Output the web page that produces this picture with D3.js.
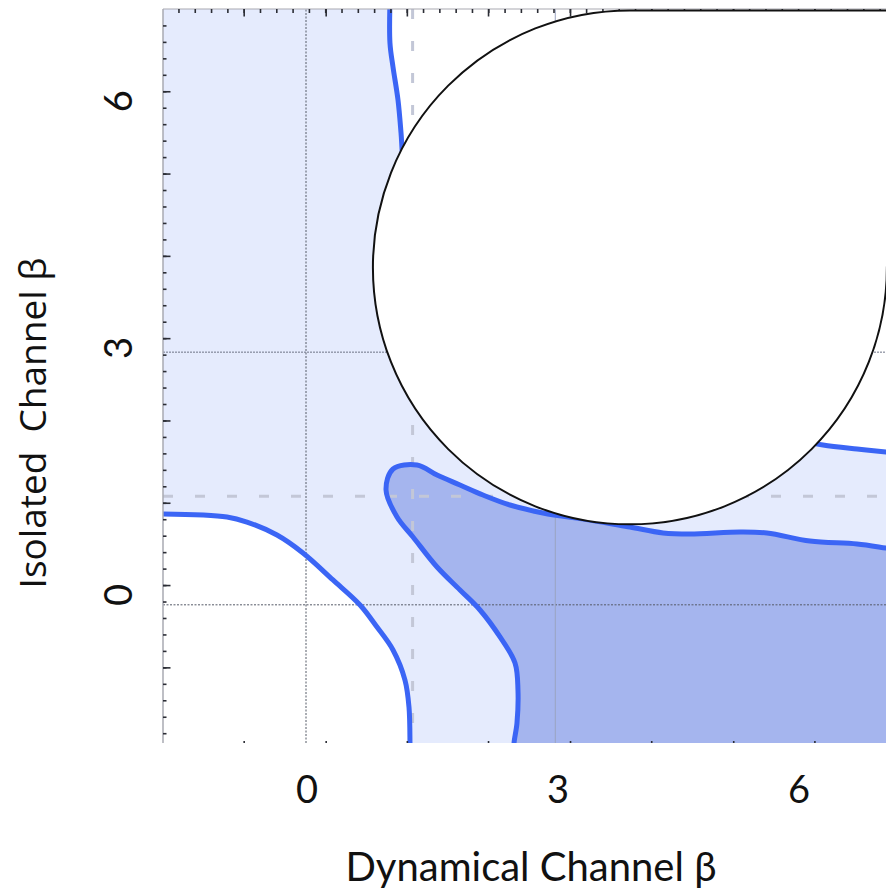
<!DOCTYPE html>
<html>
<head>
<meta charset="utf-8">
<script src="https://cdn.jsdelivr.net/npm/d3@7"></script>
<style>
  html, body { margin: 0; padding: 0; background: #ffffff; }
  svg { display: block; }
</style>
</head>
<body>
<svg id="chart" width="886" height="893"></svg>
<script>
// ---------- data (data units: x = Dynamical Channel β, y = Isolated Channel β) ----------
const xTickLabels = [0, 3, 6];
const yTickLabels = [0, 3, 6];
const xMajorTicks = [-0.76, 0.24, 1.23, 2.22, 3.22, 4.21, 5.21, 6.20];
const yMajorTicks = [-0.94, 0.06, 1.06, 2.06, 3.06, 4.06, 5.06, 6.06];

// outer (light) contour, lower-left branch
const outerLowerX = [-1.76, -0.963, -0.720, -0.354, -0.037, 0.329, 0.659, 0.866, 1.061, 1.207, 1.256, 1.268, 1.268];
const outerLowerY = [0.923, 0.887, 0.826, 0.668, 0.450, 0.122, -0.182, -0.450, -0.729, -1.094, -1.422, -1.859, -1.95];

// outer (light) contour, upper-right branch (middle part lies under the overlay)
const outerUpperX = [1.024, 1.024, 1.061, 1.122, 1.159, 1.183, 1.268, 3.60, 6.00, 6.305, 6.720, 7.073, 7.15];
const outerUpperY = [7.15, 6.646, 6.355, 5.954, 5.553, 5.225, 4.739, 2.30, 1.820, 1.762, 1.713, 1.677, 1.670];

// inner (dark) contour
const innerX = [2.537, 2.537, 2.573, 2.585, 2.549, 2.366, 2.122, 1.878, 1.598, 1.305, 1.110, 0.976, 1.061, 1.354, 1.598, 1.878, 2.159, 2.488, 2.890, 3.463, 3.951, 4.354, 4.683, 5.293, 5.622, 6.146, 6.720, 7.073, 7.15];
const innerY = [-1.95, -1.859, -1.616, -1.215, -0.887, -0.571, -0.243, 0.000, 0.279, 0.644, 0.887, 1.215, 1.470, 1.519, 1.397, 1.276, 1.154, 1.033, 0.936, 0.851, 0.765, 0.693, 0.680, 0.705, 0.693, 0.595, 0.559, 0.510, 0.500];

// reference lines
const zeroLinesX = [0];
const zeroLinesY = [-0.18];
const refLinesX = [3.04];
const refLinesY = [2.89];
const dashedLinesX = [1.30];
const dashedLinesY = [1.14];

// overlay disc (data units: centre and radius in x-units)
const overlayCentre = [3.95, 3.92];
const overlayRadius = 3.134;

// ---------- scales ----------
const svg = d3.select("#chart");
const plotLeft = 163, plotRight = 886, plotTop = 9, plotBottom = 743;
const x = d3.scaleLinear().domain([(plotLeft - 306) / 82, (plotRight - 306) / 82]).range([plotLeft, plotRight]);
const y = d3.scaleLinear().domain([(590 - plotBottom) / 82.3, (590 - plotTop) / 82.3]).range([plotBottom, plotTop]);
const [x0, x1] = x.domain();
const [y0, y1] = y.domain();

const colLight = "#e5ebfd";
const colDark = "#a5b5ee";
const colLine = "#3b65f5";

svg.append("defs").append("clipPath").attr("id", "plotClip")
  .append("rect").attr("x", plotLeft).attr("y", plotTop)
  .attr("width", plotRight - plotLeft).attr("height", plotBottom - plotTop);

const plot = svg.append("g").attr("clip-path", "url(#plotClip)");

const pts = (xs, ys) => xs.map((v, i) => [v, ys[i]]);
const line = d3.line().x(d => x(d[0])).y(d => y(d[1])).curve(d3.curveCatmullRom.alpha(0.5));

const lower = pts(outerLowerX, outerLowerY);
const upper = pts(outerUpperX, outerUpperY);
const inner = pts(innerX, innerY);

// light background
plot.append("rect").attr("x", x(x0)).attr("y", y(y1))
  .attr("width", x(x1) - x(x0)).attr("height", y(y0) - y(y1)).attr("fill", colLight);

// white region lower-left
plot.append("path")
  .attr("d", line(lower) + `L${x(x0 - 0.1)},${y(y0 - 0.1)}Z`)
  .attr("fill", "#ffffff");

// white region upper-right
plot.append("path")
  .attr("d", line(upper) + `L${x(x1 + 0.1)},${y(y1 + 0.1)}Z`)
  .attr("fill", "#ffffff");

// dark region
plot.append("path")
  .attr("d", line(inner) + `L${x(x1 + 0.1)},${y(y0 - 0.1)}Z`)
  .attr("fill", colDark);

// reference lines
const gl = plot.append("g");
zeroLinesX.forEach(v => gl.append("line").attr("x1", x(v)).attr("x2", x(v)).attr("y1", y(y0)).attr("y2", y(y1))
  .attr("stroke", "#555a66").attr("stroke-width", 1).attr("stroke-dasharray", "2,1.5"));
zeroLinesY.forEach(v => gl.append("line").attr("x1", x(x0)).attr("x2", x(x1)).attr("y1", y(v)).attr("y2", y(v))
  .attr("stroke", "#555a66").attr("stroke-width", 1).attr("stroke-dasharray", "2,1.5"));
refLinesX.forEach(v => gl.append("line").attr("x1", x(v)).attr("x2", x(v)).attr("y1", y(y0)).attr("y2", y(y1))
  .attr("stroke", "#9aa3c0").attr("stroke-width", 1));
refLinesY.forEach(v => gl.append("line").attr("x1", x(x0)).attr("x2", x(x1)).attr("y1", y(v)).attr("y2", y(v))
  .attr("stroke", "#6d7386").attr("stroke-width", 1).attr("stroke-dasharray", "2,1"));
dashedLinesX.forEach(v => gl.append("line").attr("x1", x(v)).attr("x2", x(v)).attr("y1", y(y1)).attr("y2", y(y0))
  .attr("stroke", "#c3c7d7").attr("stroke-width", 3).attr("stroke-dasharray", "10,22"));
dashedLinesY.forEach(v => gl.append("line").attr("x1", x(x0)).attr("x2", x(x1)).attr("y1", y(v)).attr("y2", y(v))
  .attr("stroke", "#c3c7d7").attr("stroke-width", 3).attr("stroke-dasharray", "10,22"));

// contour lines
[lower, upper, inner].forEach(p => {
  plot.append("path").attr("d", line(p)).attr("fill", "none")
    .attr("stroke", colLine).attr("stroke-width", 5).attr("stroke-linejoin", "round");
});

// frame (left & top)
svg.append("line").attr("x1", plotLeft).attr("x2", plotLeft).attr("y1", plotTop).attr("y2", plotBottom)
  .attr("stroke", "#a9aab2").attr("stroke-width", 1.5);
svg.append("line").attr("x1", plotLeft).attr("x2", plotRight).attr("y1", plotTop).attr("y2", plotTop)
  .attr("stroke", "#a9aab2").attr("stroke-width", 1.2);

// ticks
const step = (xMajorTicks[xMajorTicks.length - 1] - xMajorTicks[0]) / (xMajorTicks.length - 1);
const xMinor = d3.range(xMajorTicks[0] - step, x1, step / 5).filter(v => v > x0 && v < x1);
const yMinor = d3.range(yMajorTicks[0] - 1, y1, 0.2).filter(v => v > y0 && v < y1);

const axL = svg.append("g").attr("transform", `translate(${plotLeft},0)`)
  .call(d3.axisRight(y).tickValues(yMinor).tickSize(3.5).tickFormat(""));
const axL2 = svg.append("g").attr("transform", `translate(${plotLeft},0)`)
  .call(d3.axisRight(y).tickValues(yMajorTicks).tickSize(7.5).tickFormat(""));
const axT = svg.append("g").attr("transform", `translate(0,${plotTop})`)
  .call(d3.axisBottom(x).tickValues(xMinor).tickSize(4).tickFormat(""));
const axT2 = svg.append("g").attr("transform", `translate(0,${plotTop})`)
  .call(d3.axisBottom(x).tickValues(xMajorTicks).tickSize(7.5).tickFormat(""));
const axB = svg.append("g").attr("transform", `translate(0,${plotBottom})`)
  .call(d3.axisTop(x).tickValues(xMajorTicks).tickSize(2).tickFormat(""));
[axL, axL2, axT, axT2, axB].forEach(g => {
  g.select(".domain").remove();
  g.selectAll(".tick line").attr("stroke", "#2b2d35").attr("stroke-width", 1.6);
});

// overlay disc (white with black outline, square top-right corner)
const cxp = x(overlayCentre[0]), cyp = y(overlayCentre[1]);
const rp = x(overlayCentre[0] + overlayRadius) - cxp;
const disc = d3.path();
disc.moveTo(cxp + rp, cyp);
disc.arc(cxp, cyp, rp, 0, 1.5 * Math.PI, false);
disc.lineTo(cxp + rp + 20, cyp - rp);
disc.lineTo(cxp + rp + 20, cyp);
disc.closePath();
svg.append("path").attr("d", disc.toString()).attr("fill", "#ffffff")
  .attr("stroke", "#111111").attr("stroke-width", 2);

// tick labels
svg.append("g").selectAll("text").data(xTickLabels).join("text")
  .attr("x", d => x(d) + (d === 3 ? 6 : 1)).attr("y", 803)
  .attr("text-anchor", "middle")
  .attr("font-family", "Lato, 'Open Sans', sans-serif").attr("font-size", 38)
  .attr("fill", "#111").text(d => d);

svg.append("g").selectAll("text").data(yTickLabels).join("text")
  .attr("transform", d => `translate(132,${y(d) + 5}) rotate(-90)`)
  .attr("text-anchor", "middle")
  .attr("font-family", "Lato, 'Open Sans', sans-serif").attr("font-size", 38)
  .attr("fill", "#111").text(d => d);

// axis titles
svg.append("text").attr("x", 531).attr("y", 881).attr("text-anchor", "middle")
  .attr("font-family", "Lato, sans-serif").attr("font-size", 40).attr("fill", "#111")
  .text("Dynamical Channel β");

svg.append("text").attr("transform", "translate(46,423) rotate(-90)").attr("text-anchor", "middle")
  .attr("font-family", "'Open Sans', sans-serif").attr("font-size", 37).attr("fill", "#111")
  .attr("xml:space", "preserve").style("white-space", "pre")
  .text("Isolated  Channel β");
</script>
</body>
</html>
